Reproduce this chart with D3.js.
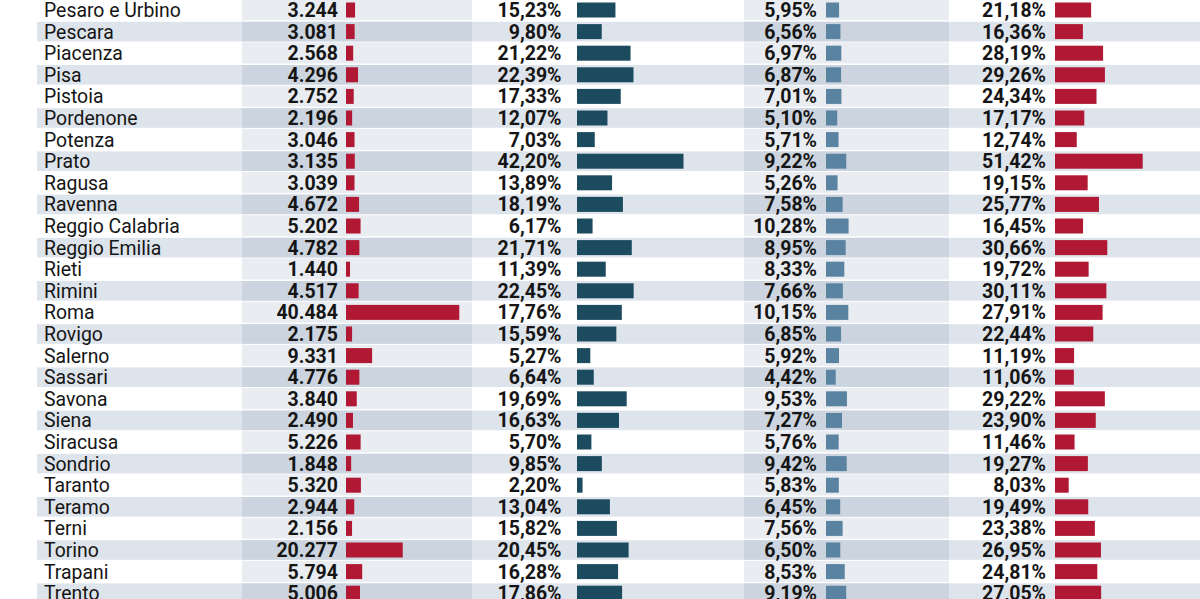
<!DOCTYPE html>
<html>
<head>
<meta charset="utf-8">
<script src="https://cdn.jsdelivr.net/npm/d3@7"></script>
<style>
  body { margin: 0; background: #fff; }
  svg { display: block; }
  text { font-family: Roboto, "Noto Sans", sans-serif; fill: #151515; }
</style>
</head>
<body>
<svg id="chart" width="1200" height="599"></svg>
<script>
// province names
var province = ["Pesaro e Urbino", "Pescara", "Piacenza", "Pisa", "Pistoia", "Pordenone",
  "Potenza", "Prato", "Ragusa", "Ravenna", "Reggio Calabria", "Reggio Emilia", "Rieti",
  "Rimini", "Roma", "Rovigo", "Salerno", "Sassari", "Savona", "Siena", "Siracusa",
  "Sondrio", "Taranto", "Teramo", "Terni", "Torino", "Trapani", "Trento"];

// column 1: absolute numbers
var totale = [3244, 3081, 2568, 4296, 2752, 2196, 3046, 3135, 3039, 4672, 5202, 4782, 1440,
  4517, 40484, 2175, 9331, 4776, 3840, 2490, 5226, 1848, 5320, 2944, 2156, 20277, 5794, 5006];

// column 2: percentages (dark blue)
var pctA = [15.23, 9.80, 21.22, 22.39, 17.33, 12.07, 7.03, 42.20, 13.89, 18.19, 6.17, 21.71,
  11.39, 22.45, 17.76, 15.59, 5.27, 6.64, 19.69, 16.63, 5.70, 9.85, 2.20, 13.04, 15.82,
  20.45, 16.28, 17.86];

// column 3: percentages (light blue)
var pctB = [5.95, 6.56, 6.97, 6.87, 7.01, 5.10, 5.71, 9.22, 5.26, 7.58, 10.28, 8.95, 8.33,
  7.66, 10.15, 6.85, 5.92, 4.42, 9.53, 7.27, 5.76, 9.42, 5.83, 6.45, 7.56, 6.50, 8.53, 9.19];

// column 4: percentages (red)
var pctC = [21.18, 16.36, 28.19, 29.26, 24.34, 17.17, 12.74, 51.42, 19.15, 25.77, 16.45,
  30.66, 19.72, 30.11, 27.91, 22.44, 11.19, 11.06, 29.22, 23.90, 11.46, 19.27, 8.03, 19.49,
  23.38, 26.95, 24.81, 27.05];

var rows = province.map(function(p, i) {
  return { name: p, i: i, tot: totale[i], a: pctA[i], b: pctB[i], c: pctC[i] };
});

var svg = d3.select("#chart");
var width = 1200;

var rowH = 21.6;
var y = d3.scaleBand()
    .domain(province)
    .range([10 - rowH / 2, 10 - rowH / 2 + province.length * rowH]);

var loc = d3.formatLocale({ decimal: ",", thousands: ".", grouping: [3], currency: ["", "€"] });
var fmtTot = loc.format(",d");
var fmtPct = function(v) { return loc.format(".2f")(v) + "%"; };

// columns: text right edge, bar start, scale
var cols = [
  { key: "tot", textX: 338, barX: 346, color: "#b01834", fmt: fmtTot,
    x: d3.scaleLinear().domain([0, 40484]).range([0, 113.3]) },
  { key: "a", textX: 561.5, barX: 577, color: "#1c4a5f", fmt: fmtPct,
    x: d3.scaleLinear().domain([0, 42.20]).range([0, 106.5]) },
  { key: "b", textX: 817, barX: 826, color: "#5a82a1", fmt: fmtPct,
    x: d3.scaleLinear().domain([0, 10.28]).range([0, 22.6]) },
  { key: "c", textX: 1046, barX: 1055, color: "#b01834", fmt: fmtPct,
    x: d3.scaleLinear().domain([0, 51.42]).range([0, 87.7]) }
];

// shaded column bands
var bands = [[242, 472], [744, 949]];

var bg = svg.append("g");

// stripes on odd rows
bg.selectAll("rect.stripe")
  .data(rows.filter(function(d) { return d.i % 2 === 1; }))
  .enter().append("rect")
    .attr("class", "stripe")
    .attr("x", 37)
    .attr("width", width - 37)
    .attr("y", function(d) { return y(d.name) + 1; })
    .attr("height", y.bandwidth() - 2)
    .attr("fill", "#dee4eb");

// band cells
bands.forEach(function(b) {
  bg.append("g").selectAll("rect")
    .data(rows)
    .enter().append("rect")
      .attr("x", b[0])
      .attr("width", b[1] - b[0])
      .attr("y", function(d) { return y(d.name) + (d.i % 2 ? 1 : 0); })
      .attr("height", function(d) { return y.bandwidth() - (d.i % 2 ? 2 : 0.5); })
      .attr("fill", function(d) { return d.i % 2 ? "#ccd5df" : "#e9edf2"; });
});

// names
svg.append("g").selectAll("text")
  .data(rows)
  .enter().append("text")
    .attr("x", 44)
    .attr("y", function(d) { return y(d.name) + y.bandwidth() / 2; })
    .attr("dy", "0.36em")
    .style("font-size", "19.4px")
    .text(function(d) { return d.name; });

cols.forEach(function(c) {
  var g = svg.append("g");

  g.selectAll("rect")
    .data(rows)
    .enter().append("rect")
      .attr("x", c.barX)
      .attr("y", function(d) { return y(d.name) + y.bandwidth() / 2 - 7.5; })
      .attr("height", 15)
      .attr("width", function(d) { return c.x(d[c.key]); })
      .attr("fill", c.color);

  g.selectAll("text")
    .data(rows)
    .enter().append("text")
      .attr("x", c.textX)
      .attr("y", function(d) { return y(d.name) + y.bandwidth() / 2; })
      .attr("dy", "0.36em")
      .attr("text-anchor", "end")
      .style("font-size", "19.5px")
      .style("font-weight", 700)
      .text(function(d) { return c.fmt(d[c.key]); });
});
</script>
</body>
</html>
